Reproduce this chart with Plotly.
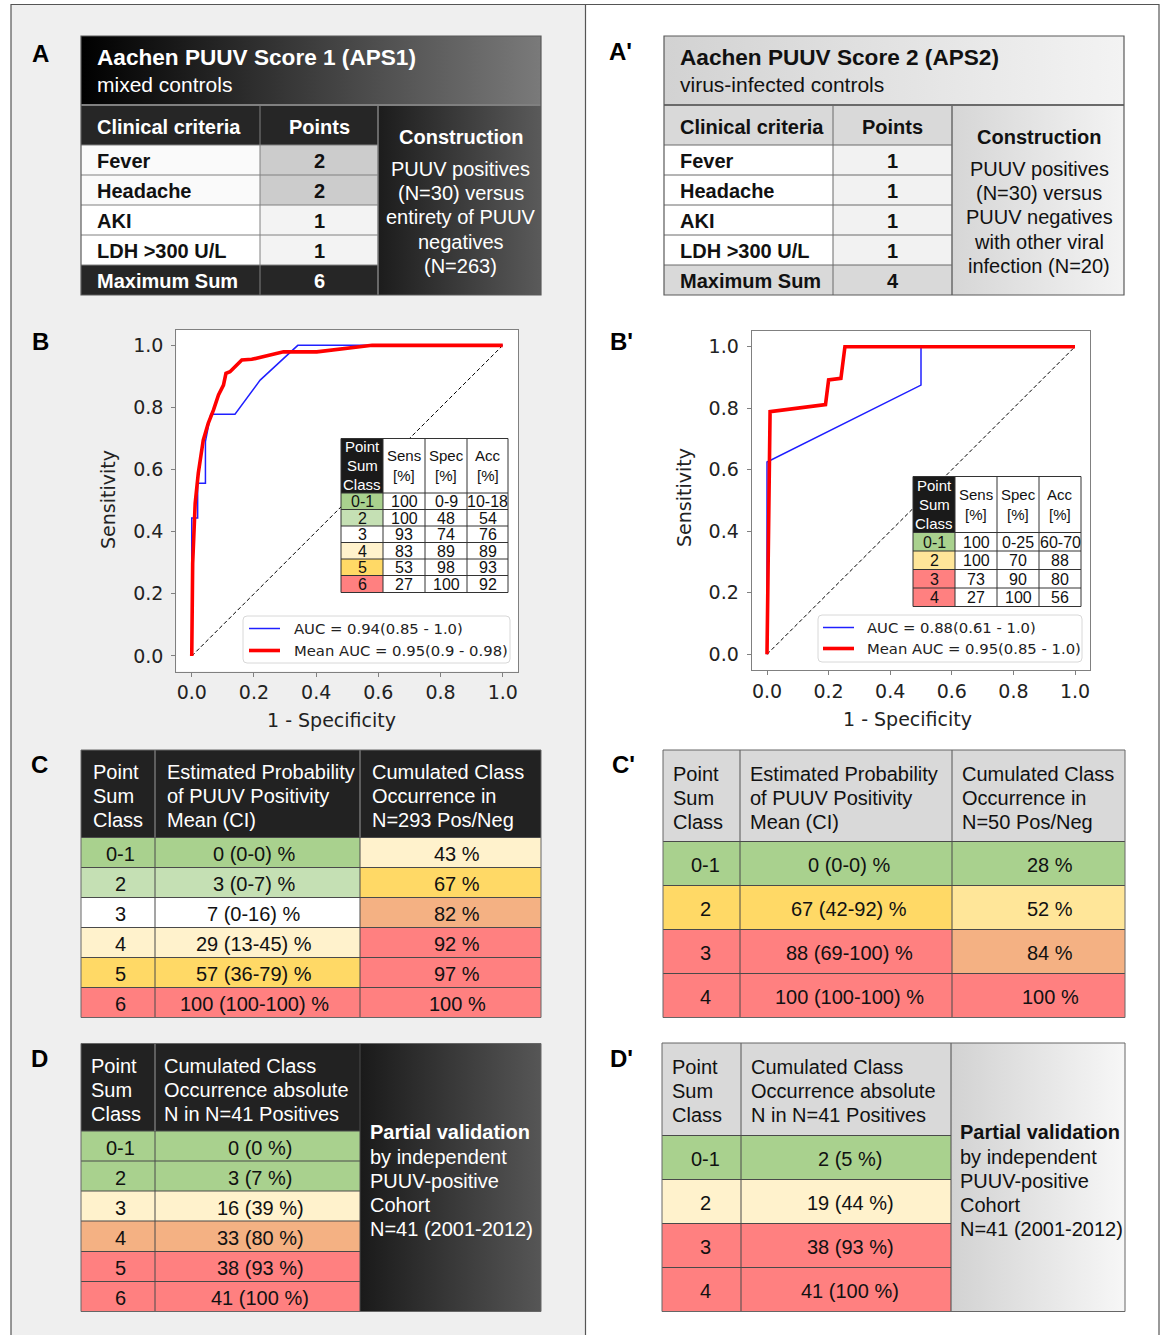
import plotly.graph_objects as go

W, H = 1165, 1335
SANS = "Liberation Sans, Arial, sans-serif"
DJV = "DejaVu Sans, sans-serif"

# ---------------- data ----------------
# A / A': score construction
criteria = ["Fever", "Headache", "AKI", "LDH >300 U/L"]
aps1_points = [2, 2, 1, 1]
aps2_points = [1, 1, 1, 1]
aps1_title = ["Aachen PUUV Score 1 (APS1)", "mixed controls"]
aps2_title = ["Aachen PUUV Score 2 (APS2)", "virus-infected controls"]
aps1_construction = ["PUUV positives", "(N=30) versus", "entirety of PUUV", "negatives", "(N=263)"]
aps2_construction = ["PUUV positives", "(N=30) versus", "PUUV negatives", "with other viral", "infection (N=20)"]

# B / B': ROC curves
aps1_fpr = [0, 0, 0.019, 0.019, 0.044, 0.044, 0.061, 0.139, 0.22, 0.341, 1.0]
aps1_tpr = [0, 0.444, 0.444, 0.556, 0.556, 0.69, 0.778, 0.778, 0.888, 1.0, 1.0]
aps1_mean_fpr = [0, 0.003, 0.011, 0.021, 0.037, 0.053, 0.07, 0.086, 0.102, 0.11,
                 0.123, 0.161, 0.193, 0.295, 0.402, 0.58, 1.0]
aps1_mean_tpr = [0, 0.298, 0.491, 0.588, 0.695, 0.749, 0.792, 0.84, 0.872, 0.91,
                 0.915, 0.953, 0.955, 0.979, 0.979, 1.0, 1.0]
aps2_fpr = [0, 0, 0.5, 0.5, 1.0]
aps2_tpr = [0, 0.625, 0.875, 1.0, 1.0]
aps2_mean_fpr = [0, 0.01, 0.19, 0.2, 0.24, 0.253, 1.0]
aps2_mean_tpr = [0, 0.789, 0.812, 0.892, 0.897, 1.0, 1.0]
aps1_legend = ["AUC = 0.94(0.85 - 1.0)", "Mean AUC = 0.95(0.9 - 0.98)"]
aps2_legend = ["AUC = 0.88(0.61 - 1.0)", "Mean AUC = 0.95(0.85 - 1.0)"]

# inset tables (sensitivity / specificity / accuracy per point-sum class)
aps1_classes = ["0-1", "2", "3", "4", "5", "6"]
aps1_sens = ["100", "100", "93", "83", "53", "27"]
aps1_spec = ["0-9", "48", "74", "89", "98", "100"]
aps1_acc = ["10-18", "54", "76", "89", "93", "92"]
aps2_classes = ["0-1", "2", "3", "4"]
aps2_sens = ["100", "100", "73", "27"]
aps2_spec = ["0-25", "70", "90", "100"]
aps2_acc = ["60-70", "88", "80", "56"]

# C / C': estimated probability and cumulated occurrence
aps1_prob_mean = [0, 3, 7, 29, 57, 100]
aps1_prob_lo = [0, 0, 0, 13, 36, 100]
aps1_prob_hi = [0, 7, 16, 45, 79, 100]
aps1_cum_occ = [43, 67, 82, 92, 97, 100]
aps2_prob_mean = [0, 67, 88, 100]
aps2_prob_lo = [0, 42, 69, 100]
aps2_prob_hi = [0, 92, 100, 100]
aps2_cum_occ = [28, 52, 84, 100]

# D / D': validation cohort (N=41)
aps1_val_n = [0, 3, 16, 33, 38, 41]
aps1_val_pct = [0, 7, 39, 80, 93, 100]
aps2_val_n = [2, 19, 38, 41]
aps2_val_pct = [5, 44, 93, 100]

validation_text = ["by independent", "PUUV-positive", "Cohort", "N=41 (2001-2012)"]

# ---------------- colours ----------------
GREEN, LGREEN, WHITE = "#a9d18e", "#c5e0b4", "#ffffff"
LYEL, YEL, PYEL = "#fff2cc", "#ffd966", "#ffe699"
ORANGE, RED = "#f4b183", "#ff8080"

shapes, annos, traces = [], [], []


def box(x0, y0, x1, y1, fill, layer="below"):
    shapes.append(dict(type="rect", xref="x", yref="y", x0=x0, y0=y0, x1=x1, y1=y1,
                       fillcolor=fill, line=dict(width=0), layer=layer))


def seg(x0, y0, x1, y1, color="#555", width=1, layer="above"):
    shapes.append(dict(type="line", xref="x", yref="y", x0=x0, y0=y0, x1=x1, y1=y1,
                       line=dict(color=color, width=width), layer=layer))


def frame(x0, y0, x1, y1, color="#555", width=1, layer="above"):
    shapes.append(dict(type="rect", xref="x", yref="y", x0=x0, y0=y0, x1=x1, y1=y1,
                       fillcolor="rgba(0,0,0,0)", line=dict(color=color, width=width), layer=layer))


def grad(x0, y0, x1, y1, c0, c1):
    traces.append(go.Scatter(
        x=[x0, x1, x1, x0, x0], y=[y0, y0, y1, y1, y0], mode="lines", fill="toself",
        fillgradient=dict(type="horizontal", colorscale=[[0, c0], [1, c1]]),
        line=dict(width=0, color="rgba(0,0,0,0)"), hoverinfo="skip", showlegend=False,
        xaxis="x", yaxis="y"))


def txt(x, y, s, size=20, color="#111", xanchor="left", bold=False, family=SANS, angle=0):
    annos.append(dict(x=x, y=y, xref="x", yref="y", text=f"<b>{s}</b>" if bold else s,
                      showarrow=False, xanchor=xanchor, yanchor="middle", textangle=angle,
                      font=dict(size=size, color=color, family=family)))


# ---------------- panel backgrounds and frame ----------------
box(11, 4, 585.5, H, "#efefef")
seg(11, 4.5, 1159, 4.5, "#555", 1.2)
seg(11, 4, 11, H, "#555", 1.2)
seg(585.5, 4, 585.5, H, "#555", 1.2)
seg(1159, 4, 1159, H, "#555", 1.2)

# panel letters
for lx, ly, lab in [(40, 53, "A"), (620, 51, "A'"), (40, 341, "B"), (621, 341, "B'"),
                    (39, 764, "C"), (623, 764, "C'"), (39, 1058, "D"), (621, 1058, "D'")]:
    txt(lx, ly, lab, size=24, color="#000", xanchor="center", bold=True)


# ---------------- A / A' score tables ----------------
def score_table(x0, xc1, xc2, x1, dark, title, points, construction):
    y0, yt, yh = 36, 105, 145
    rows = [yh + 30 * i for i in range(5)] + [295]
    if dark:
        grad(x0, y0, x1, yt, "#000000", "#7a7a7a")
        box(x0, yt, xc2, yh, "#262626")
        grad(xc2, yt, x1, 295, "#1c1c1c", "#5a5a5a")
        box(x0, rows[4], xc2, 295, "#262626")
        name_fill = ["#fafafa", "#fafafa", "#ffffff", "#ffffff"]
        pt_fill = ["#cccccc", "#cccccc", "#f3f3f3", "#f3f3f3"]
        hc, lc, tc = "#ffffff", "#808080", "#ffffff"
    else:
        grad(x0, y0, x1, yt, "#d2d2d2", "#f3f3f3")
        box(x0, yt, xc2, yh, "#d9d9d9")
        grad(xc2, yt, x1, 295, "#d6d6d6", "#f3f3f3")
        box(x0, rows[4], xc2, 295, "#d9d9d9")
        name_fill = ["#ffffff"] * 4
        pt_fill = ["#f2f2f2"] * 4
        hc, lc, tc = "#111111", "#6a6a6a", "#111111"
    for i in range(4):
        box(x0, rows[i], xc1, rows[i + 1], name_fill[i])
        box(xc1, rows[i], xc2, rows[i + 1], pt_fill[i])
    # grid
    seg(x0, yt, x1, yt, lc, 2)
    for yy in rows[:5]:
        seg(x0, yy, xc2, yy, lc, 1)
    seg(xc1, yt, xc1, 295, lc, 1)
    seg(xc2, yt, xc2, 295, lc, 1.5)
    frame(x0, y0, x1, 295, "#5a5a5a", 1.2)
    # text
    txt(x0 + 14, 57, title[0], size=22.6, color=hc, bold=True)
    txt(x0 + 14, 84, title[1], size=21, color=hc)
    txt(x0 + 14, 127, "Clinical criteria", size=20, color=hc, bold=True)
    pc = (xc1 + xc2) / 2
    txt(pc, 127, "Points", size=20, color=hc, xanchor="center", bold=True)
    for i, (c, p) in enumerate(zip(criteria, points)):
        yy = rows[i] + 16
        txt(x0 + 14, yy, c, size=20, color="#111", bold=True)
        txt(pc, yy, str(p), size=20, color="#111", xanchor="center", bold=True)
    txt(x0 + 14, 281, "Maximum Sum", size=20, color=hc, bold=True)
    txt(pc, 281, str(sum(points)), size=20, color=hc, xanchor="center", bold=True)
    cc = (xc2 + x1) / 2 + 1
    txt(cc, 137, "Construction", size=20, color=tc, xanchor="center", bold=True)
    for i, line in enumerate(construction):
        txt(cc, 169 + 24.2 * i, line, size=20, color=tc, xanchor="center")


score_table(81, 260, 378, 541, True, aps1_title, aps1_points, aps1_construction)
score_table(664, 833, 952, 1124, False, aps2_title, aps2_points, aps2_construction)


# ---------------- B / B' ROC panels ----------------
def roc_panel(k, px, fpr, tpr, mfpr, mtpr):
    x0, y0, x1, y1 = px
    box(x0, y0, x1, y1, "#ffffff")
    xa, ya = f"x{k}", f"y{k}"
    traces.append(go.Scatter(x=[0, 1], y=[0, 1], mode="lines", xaxis=xa, yaxis=ya,
                             line=dict(color="#000", width=1, dash="4px,2.5px"),
                             hoverinfo="skip", showlegend=False))
    traces.append(go.Scatter(x=fpr, y=tpr, mode="lines", xaxis=xa, yaxis=ya,
                             line=dict(color="#2020ff", width=1.5),
                             hoverinfo="skip", showlegend=False))
    traces.append(go.Scatter(x=mfpr, y=mtpr, mode="lines", xaxis=xa, yaxis=ya,
                             line=dict(color="#ff0000", width=3.6),
                             hoverinfo="skip", showlegend=False))
    ax = dict(range=[-0.05, 1.05], tickvals=[0, 0.2, 0.4, 0.6, 0.8, 1.0], tickformat=".1f",
              showgrid=False, zeroline=False, showline=True, mirror=True, linecolor="#808080",
              linewidth=1, ticks="outside", ticklen=4, tickcolor="#808080", tickwidth=1,
              tickfont=dict(family=DJV, size=19, color="#222"), fixedrange=True)
    return (dict(ax, domain=[x0 / W, x1 / W], anchor=ya),
            dict(ax, domain=[1 - y1 / H, 1 - y0 / H], anchor=xa, ticklabelstandoff=4))


def inset_table(xs, ys, classes, fills, sens, spec, acc):
    hy = ys[0]
    box(xs[0], hy, xs[1], ys[1], "#1a1a1a", layer="above")
    box(xs[1], hy, xs[4], ys[1], "#ffffff", layer="above")
    for i, c in enumerate(classes):
        box(xs[0], ys[i + 1], xs[1], ys[i + 2], fills[i], layer="above")
        box(xs[1], ys[i + 1], xs[4], ys[i + 2], "#ffffff", layer="above")
    for yy in ys[1:-1]:
        seg(xs[0], yy, xs[4], yy, "#333", 1)
    for xx in xs[1:-1]:
        seg(xx, ys[0], xx, ys[-1], "#333", 1)
    frame(xs[0], ys[0], xs[4], ys[-1], "#333", 1)
    hm = (ys[0] + ys[1]) / 2
    xc = [(xs[i] + xs[i + 1]) / 2 for i in range(4)]
    for j, w in enumerate(["Point", "Sum", "Class"]):
        txt(xc[0], hm - 19 + 19 * j, w, size=15, color="#fff", xanchor="center")
    for j, w in enumerate(["Sens", "Spec", "Acc"]):
        txt(xc[j + 1], hm - 10, w, size=15, color="#111", xanchor="center")
        txt(xc[j + 1], hm + 10, "[%]", size=15, color="#111", xanchor="center")
    for i in range(len(classes)):
        ym = (ys[i + 1] + ys[i + 2]) / 2 + 0.5
        for j, v in enumerate([classes[i], sens[i], spec[i], acc[i]]):
            txt(xc[j], ym, v, size=16, color="#111", xanchor="center")


def roc_legend(x0, y0, x1, y1, labels, ly, lx0, lx1, tx):
    r = 4
    path = (f"M{x0 + r},{y0} L{x1 - r},{y0} Q{x1},{y0} {x1},{y0 + r} L{x1},{y1 - r} "
            f"Q{x1},{y1} {x1 - r},{y1} L{x0 + r},{y1} Q{x0},{y1} {x0},{y1 - r} "
            f"L{x0},{y0 + r} Q{x0},{y0} {x0 + r},{y0} Z")
    shapes.append(dict(type="path", xref="x", yref="y", path=path, fillcolor="#ffffff",
                       line=dict(color="#d8d8d8", width=1), layer="above"))
    seg(lx0, ly[0], lx1, ly[0], "#2020ff", 1.5)
    seg(lx0, ly[1], lx1, ly[1], "#ff0000", 3.6)
    txt(tx, ly[0], labels[0], size=14.8, color="#222", family=DJV)
    txt(tx, ly[1], labels[1], size=14.8, color="#222", family=DJV)


xb2, yb2 = roc_panel(2, (176.2, 329.8, 518.3, 671.5), aps1_fpr, aps1_tpr, aps1_mean_fpr, aps1_mean_tpr)
xb3, yb3 = roc_panel(3, (751.6, 331.3, 1090.4, 669.7), aps2_fpr, aps2_tpr, aps2_mean_fpr, aps2_mean_tpr)

inset_table([341, 383, 425, 467, 508], [438.5, 493, 509.5, 526, 542.5, 559, 575.5, 592.5],
            aps1_classes, [GREEN, LGREEN, WHITE, LYEL, YEL, RED], aps1_sens, aps1_spec, aps1_acc)
inset_table([913, 955, 997, 1039, 1081], [476.5, 532.5, 551, 569.5, 588, 606.5],
            aps2_classes, [GREEN, PYEL, RED, RED], aps2_sens, aps2_spec, aps2_acc)

roc_legend(243, 616, 510, 663, aps1_legend, (628.5, 650.5), 249, 280, 292)
roc_legend(818, 615, 1082, 662, aps2_legend, (627.5, 648.5), 823, 854, 865)

txt(108, 500, "Sensitivity", size=19, color="#222", xanchor="center", family=DJV, angle=-90)
txt(331, 720, "1 - Specificity", size=19, color="#222", xanchor="center", family=DJV)
txt(684, 498, "Sensitivity", size=19, color="#222", xanchor="center", family=DJV, angle=-90)
txt(907, 719, "1 - Specificity", size=19, color="#222", xanchor="center", family=DJV)


# ---------------- C / C' probability tables ----------------
def prob_table(xs, ys, dark, header_x, header_y, col_fills, cols_text, text_x):
    hf = "#222222" if dark else "#d9d9d9"
    hc = "#ffffff" if dark else "#111111"
    box(xs[0], ys[0], xs[-1], ys[1], hf)
    nrow = len(ys) - 2
    for i in range(nrow):
        for j in range(len(xs) - 1):
            box(xs[j], ys[i + 1], xs[j + 1], ys[i + 2], col_fills[j][i])
    for yy in ys[1:-1]:
        seg(xs[0], yy, xs[-1], yy, "#4a4a4a", 1)
    for xx in xs[1:-1]:
        seg(xx, ys[0], xx, ys[1], "#9a9a9a" if dark else "#555", 1)
        seg(xx, ys[1], xx, ys[-1], "#4a4a4a", 1)
    frame(xs[0], ys[0], xs[-1], ys[-1], "#666", 1)
    for hx, lines in zip(header_x, cols_text[0]):
        for k, line in enumerate(lines):
            txt(hx, header_y[k], line, size=20, color=hc)
    for j, col in enumerate(cols_text[1:]):
        for i, v in enumerate(col):
            txt(text_x[j], (ys[i + 1] + ys[i + 2]) / 2 + 1.5, v, size=20, color="#111",
                xanchor="center")


c_headers = [["Point", "Sum", "Class"],
             ["Estimated Probability", "of PUUV Positivity", "Mean (CI)"]]

prob_table([81, 155, 360, 541], [750, 837.5, 867.5, 897.5, 927.5, 957.5, 987.5, 1017.5], True,
           [91, 165, 370], [772, 796, 820],
           [[GREEN, LGREEN, WHITE, LYEL, YEL, RED],
            [GREEN, LGREEN, WHITE, LYEL, YEL, RED],
            [LYEL, YEL, ORANGE, RED, RED, RED]],
           [c_headers + [["Cumulated Class", "Occurrence in", "N=293 Pos/Neg"]],
            aps1_classes,
            [f"{m} ({lo}-{hi}) %" for m, lo, hi in zip(aps1_prob_mean, aps1_prob_lo, aps1_prob_hi)],
            [f"{v} %" for v in aps1_cum_occ]],
           [120, 254, 457])

prob_table([663, 740, 952, 1125], [750, 841.5, 885.5, 929.5, 973.5, 1017.5], False,
           [671, 748, 960], [774, 798, 822],
           [[GREEN, YEL, RED, RED],
            [GREEN, YEL, RED, RED],
            [GREEN, PYEL, ORANGE, RED]],
           [c_headers + [["Cumulated Class", "Occurrence in", "N=50 Pos/Neg"]],
            aps2_classes,
            [f"{m} ({lo}-{hi}) %" for m, lo, hi in zip(aps2_prob_mean, aps2_prob_lo, aps2_prob_hi)],
            [f"{v} %" for v in aps2_cum_occ]],
           [705, 849, 1050])


# ---------------- D / D' validation tables ----------------
def val_table(xs, ys, dark, header_x, header_y, fills, classes, n, pct, text_x, note_x):
    hf = "#222222" if dark else "#d9d9d9"
    hc = "#ffffff" if dark else "#111111"
    box(xs[0], ys[0], xs[2], ys[1], hf)
    if dark:
        grad(xs[2], ys[0], xs[3], ys[-1], "#1a1a1a", "#565656")
    else:
        grad(xs[2], ys[0], xs[3], ys[-1], "#d2d2d2", "#f7f7f7")
    for i in range(len(classes)):
        box(xs[0], ys[i + 1], xs[2], ys[i + 2], fills[i])
    for yy in ys[1:-1]:
        seg(xs[0], yy, xs[2], yy, "#4a4a4a", 1)
    seg(xs[1], ys[0], xs[1], ys[1], "#9a9a9a" if dark else "#555", 1)
    seg(xs[1], ys[1], xs[1], ys[-1], "#4a4a4a", 1)
    seg(xs[2], ys[0], xs[2], ys[-1], "#4a4a4a", 1)
    frame(xs[0], ys[0], xs[-1], ys[-1], "#666", 1)
    for hx, lines in zip(header_x, [["Point", "Sum", "Class"],
                                    ["Cumulated Class", "Occurrence absolute", "N in N=41 Positives"]]):
        for k, line in enumerate(lines):
            txt(hx, header_y[k], line, size=20, color=hc)
    for i in range(len(classes)):
        ym = (ys[i + 1] + ys[i + 2]) / 2 + 1.5
        txt(text_x[0], ym, classes[i], size=20, color="#111", xanchor="center")
        txt(text_x[1], ym, f"{n[i]} ({pct[i]} %)", size=20, color="#111", xanchor="center")
    nc = "#ffffff" if dark else "#111111"
    txt(note_x, 1132, "Partial validation", size=20, color=nc, bold=True)
    for k, line in enumerate(validation_text):
        txt(note_x, 1156.5 + 24.2 * k, line, size=20, color=nc)


val_table([81, 155, 360, 541], [1043.5, 1131, 1161, 1191, 1221, 1251.5, 1281.5, 1311.5], True,
          [89, 162], [1066, 1090, 1114],
          [GREEN, GREEN, LYEL, ORANGE, RED, RED],
          aps1_classes, aps1_val_n, aps1_val_pct, [120, 260], 368)
val_table([662, 741, 951, 1125], [1043, 1135.5, 1179.5, 1223.5, 1267.5, 1311.5], False,
          [670, 749], [1067, 1091, 1115],
          [GREEN, LYEL, RED, RED],
          aps2_classes, aps2_val_n, aps2_val_pct, [705, 850], 958)

# ---------------- figure ----------------
fig = go.Figure(traces)
fig.update_layout(
    width=W, height=H, margin=dict(l=0, r=0, t=0, b=0),
    paper_bgcolor="#ffffff", plot_bgcolor="rgba(0,0,0,0)", showlegend=False,
    xaxis=dict(domain=[0, 1], range=[0, W], visible=False, fixedrange=True, anchor="y"),
    yaxis=dict(domain=[0, 1], range=[H, 0], visible=False, fixedrange=True, anchor="x"),
    xaxis2=xb2, yaxis2=yb2, xaxis3=xb3, yaxis3=yb3,
    shapes=shapes, annotations=annos,
)
fig.write_html("out.html", config={"displayModeBar": False})
